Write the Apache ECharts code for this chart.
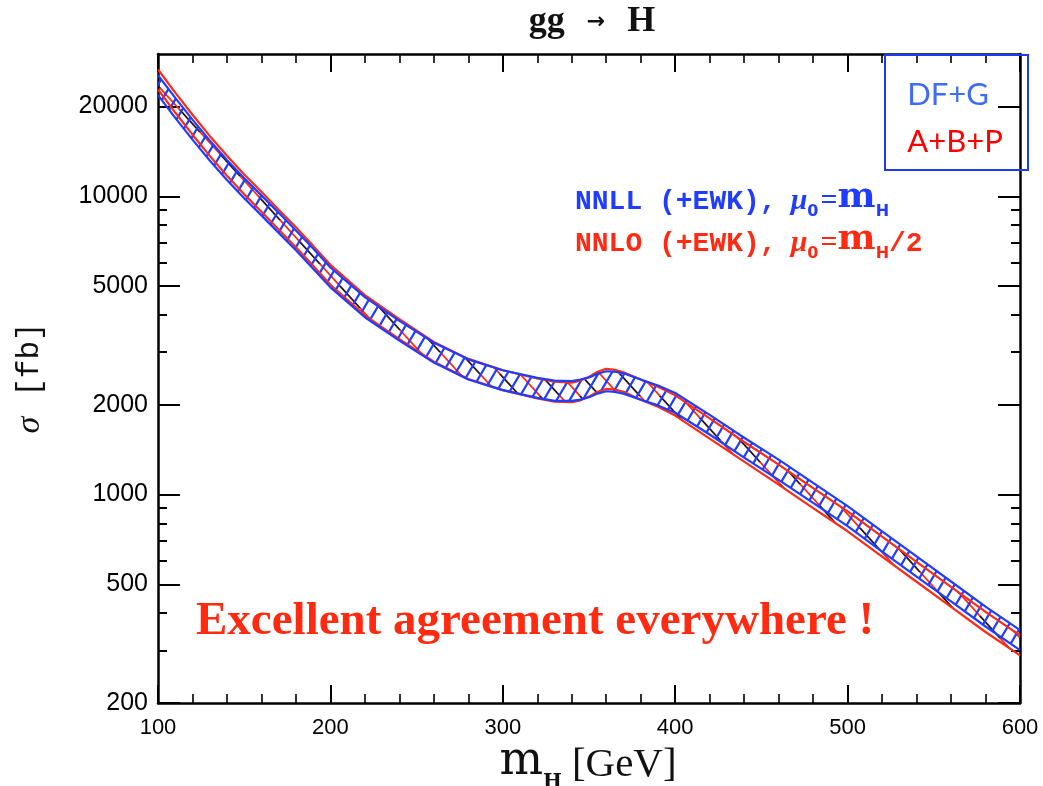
<!DOCTYPE html>
<html>
<head>
<meta charset="utf-8">
<script src="https://cdn.jsdelivr.net/npm/echarts@6/dist/echarts.min.js"></script>
<style>
  html, body { margin: 0; padding: 0; background: #ffffff; }
  #chart { width: 1043px; height: 786px; }
</style>
</head>
<body>
<div id="chart"></div>
<script>
// Higgs mass points (GeV)
const masses = [100,110,120,130,140,150,160,170,180,190,200,220,240,260,280,300,320,330,340,345,350,355,360,365,370,380,390,400,420,440,460,480,500,520,540,560,580,600];

// NNLL (+EWK), mu0 = mH : band edges in fb
const nnllUpper = [25460,21370,18070,15390,13230,11490,10070,8800,7680,6680,5770,4590,3820,3230,2840,2610,2460,2410,2400,2430,2470,2540,2590,2580,2550,2430,2320,2190,1850,1550,1310,1094,915,752,620,511,421,351];
const nnllLower = [21830,18320,15490,13190,11340,9850,8630,7540,6590,5720,4950,3930,3280,2770,2430,2240,2110,2060,2060,2080,2120,2180,2220,2210,2180,2080,1990,1880,1590,1330,1120,938,784,644,531,438,361,301];

// NNLO (+EWK), mu0 = mH/2 : band edges in fb
const nnloUpper = [26610,22270,18770,15940,13670,11840,10350,9020,7870,6820,5890,4660,3870,3250,2850,2610,2450,2390,2370,2410,2480,2580,2640,2620,2570,2430,2300,2150,1800,1500,1260,1051,878,722,595,490,404,337];
const nnloLower = [22810,19090,16090,13660,11720,10150,8870,7740,6750,5850,5050,3990,3320,2790,2440,2240,2100,2050,2040,2070,2130,2210,2260,2250,2210,2080,1970,1840,1540,1290,1080,901,753,619,510,420,346,289];

// axis ticks
const yLabelTicks = [200, 500, 1000, 2000, 5000, 10000, 20000];
const yMinorTicks = [300, 400, 600, 700, 800, 900, 3000, 4000, 6000, 7000, 8000, 9000];
const yRange = [200, 30000];
const xRange = [100, 600];
const xStep = 100;

const BLUE = '#1f3cff';
const RED = '#ff2a14';
const lg = Math.log10;

// diagonal hatch tile; dir '/' or '\\'
function hatch(w, h, n, dir, colors, lw) {
  const c = document.createElement('canvas');
  c.width = w * n; c.height = h;
  const g = c.getContext('2d');
  g.lineWidth = lw;
  g.lineCap = 'square';
  for (let k = -1; k <= n; k++) {
    g.strokeStyle = colors[((k % n) + n) % n % colors.length];
    g.beginPath();
    if (dir === '/') { g.moveTo(k * w, h); g.lineTo((k + 1) * w, 0); }
    else { g.moveTo(k * w, 0); g.lineTo((k + 1) * w, h); }
    g.stroke();
  }
  return c;
}

const blueHatch = hatch(13, 22, 2, '/', [BLUE, BLUE], 2.2);
const redHatch = hatch(20, 22, 2, '\\', [RED, '#2a1010'], 1.8);

// hatched band between two edges, placed through the cartesian scales
function band(lower, upper, pattern, z) {
  return {
    type: 'custom', coordinateSystem: 'cartesian2d', z: z, silent: true, clip: true,
    data: [[masses[0], lg(lower[0])]],
    renderItem: function (params, api) {
      const top = masses.map((m, i) => api.coord([m, lg(upper[i])]));
      const bot = masses.map((m, i) => api.coord([m, lg(lower[i])])).reverse();
      return {
        type: 'polygon',
        shape: { points: top.concat(bot) },
        style: { fill: { image: pattern, repeat: 'repeat' }, stroke: null }
      };
    }
  };
}

function edge(vals, color, z) {
  return {
    type: 'line', z: z, silent: true, symbol: 'none', smooth: false,
    data: masses.map((m, i) => [m, lg(vals[i])]),
    lineStyle: { color: color, width: 2.2 }
  };
}

function yAxisDef(pos, ticks, len, withLabels, withLine) {
  return {
    type: 'value', position: pos,
    min: lg(yRange[0]), max: lg(yRange[1]),
    axisLine: { show: withLine, lineStyle: { color: '#000', width: 2.5 } },
    axisTick: { show: true, inside: true, length: len, customValues: ticks.map(lg), lineStyle: { color: '#000', width: 2 } },
    axisLabel: withLabels ? {
      show: true, customValues: ticks.map(lg), margin: 10,
      formatter: v => String(Math.round(Math.pow(10, v))),
      color: '#000', fontSize: 25, fontFamily: '"Liberation Sans", Arial, sans-serif'
    } : { show: false },
    splitLine: { show: false }
  };
}

function xAxisDef(pos, withLabels) {
  return {
    type: 'value', position: pos,
    min: xRange[0], max: xRange[1], interval: xStep,
    axisLine: { show: true, lineStyle: { color: '#000', width: 2.5 } },
    axisTick: { show: true, inside: true, length: 18, lineStyle: { color: '#000', width: 2 } },
    minorTick: { show: true, splitNumber: 5, length: 9, lineStyle: { color: '#000', width: 1.6 } },
    axisLabel: withLabels ? {
      show: true, margin: 14, color: '#000', fontSize: 22,
      fontFamily: '"Liberation Sans", Arial, sans-serif'
    } : { show: false },
    splitLine: { show: false },
    minorSplitLine: { show: false }
  };
}

// rich styles for the in-plot key lines
function keyRich(color) {
  const base = { fill: color, verticalAlign: 'bottom', padding: [0, 0, 4, 0], fontWeight: 'bold' };
  return {
    a: Object.assign({}, base, { fontSize: 28, fontFamily: '"Liberation Mono", monospace' }),
    u: Object.assign({}, base, { fontSize: 30, fontStyle: 'italic', fontFamily: '"Liberation Serif", serif', padding: [0, 0, 4, 14] }),
    e: Object.assign({}, base, { fontSize: 30, fontFamily: '"Liberation Serif", serif', padding: [0, 0, 4, 2] }),
    m: Object.assign({}, base, { fontSize: 36, fontFamily: '"DejaVu Serif", serif' }),
    s: { fill: color, verticalAlign: 'bottom', fontWeight: 'bold', fontSize: 16, fontFamily: '"DejaVu Sans", sans-serif' }
  };
}

const chart = echarts.init(document.getElementById('chart'), null, { renderer: 'canvas' });

chart.setOption({
  animation: false,
  backgroundColor: '#ffffff',
  grid: { left: 158, right: 23, top: 54, bottom: 83, containLabel: false, outerBoundsMode: 'none' },
  xAxis: [xAxisDef('bottom', true), xAxisDef('top', false)],
  yAxis: [
    yAxisDef('left', yLabelTicks, 22, true, true),
    yAxisDef('left', yMinorTicks, 9, false, false),
    yAxisDef('right', yLabelTicks, 22, false, true),
    yAxisDef('right', yMinorTicks, 9, false, false)
  ],
  series: [
    band(nnloLower, nnloUpper, redHatch, 2),
    band(nnllLower, nnllUpper, blueHatch, 3),
    edge(nnloUpper, RED, 4),
    edge(nnloLower, RED, 4),
    edge(nnllUpper, BLUE, 5),
    edge(nnllLower, BLUE, 5)
  ],
  graphic: [
    // title
    {
      type: 'text', x: 592, y: 22, z: 10,
      style: {
        text: '{g|gg}{a|→}{g|H}', align: 'center', verticalAlign: 'middle',
        rich: {
          g: { fontSize: 36, fontWeight: 'bold', fontFamily: '"Liberation Serif", serif', fill: '#111' },
          a: { fontSize: 22, fontWeight: 'bold', fontFamily: '"DejaVu Sans", sans-serif', fill: '#111', padding: [0, 22, 0, 22] }
        }
      }
    },
    // x axis title
    {
      type: 'text', x: 588, y: 766, z: 10,
      style: {
        text: '{m|m}{s|H}{b|[GeV]}', align: 'center', verticalAlign: 'middle',
        rich: {
          m: { fontSize: 46, fontFamily: '"DejaVu Serif", serif', fill: '#111', verticalAlign: 'bottom', padding: [0, 0, 7, 0] },
          s: { fontSize: 20, fontWeight: 'bold', fontFamily: '"DejaVu Serif", serif', fill: '#111', verticalAlign: 'bottom' },
          b: { fontSize: 41, fontFamily: '"Liberation Serif", serif', fill: '#111', verticalAlign: 'bottom', padding: [0, 0, 7, 10] }
        }
      }
    },
    // y axis title
    {
      type: 'text', x: 30, y: 378, rotation: Math.PI / 2, z: 10,
      style: {
        text: '{s|σ}{b|[fb]}', align: 'center', verticalAlign: 'middle',
        rich: {
          s: { fontSize: 34, fontStyle: 'italic', fontFamily: '"Liberation Serif", serif', fill: '#111', padding: [0, 20, 0, 0] },
          b: { fontSize: 31, fontFamily: '"Liberation Mono", monospace', fill: '#111' }
        }
      }
    },
    // in-plot key
    {
      type: 'text', x: 575, y: 200, z: 10,
      style: { text: '{a|NNLL (+EWK),}{u|μ}{s|0}{e|=}{m|m}{s|H}', align: 'left', verticalAlign: 'middle', rich: keyRich(BLUE) }
    },
    {
      type: 'text', x: 575, y: 242, z: 10,
      style: { text: '{a|NNLO (+EWK),}{u|μ}{s|0}{e|=}{m|m}{s|H}{a|/2}', align: 'left', verticalAlign: 'middle', rich: keyRich(RED) }
    },
    // statement
    {
      type: 'text', x: 196, y: 622, z: 10,
      style: {
        text: 'Excellent agreement everywhere !', align: 'left', verticalAlign: 'middle',
        fontSize: 47, fontWeight: 'bold', fontFamily: '"Liberation Serif", serif', fill: '#ff2a10'
      }
    },
    // comparison key box
    {
      type: 'rect', z: 10,
      shape: { x: 885, y: 55, width: 143, height: 115 },
      style: { fill: 'none', stroke: '#1d3cf0', lineWidth: 2 }
    },
    {
      type: 'text', x: 948, y: 95, z: 11,
      style: { text: 'DF+G', align: 'center', verticalAlign: 'middle', fontSize: 31, fontFamily: 'Lato, "Open Sans", sans-serif', fill: '#3f6cf5' }
    },
    {
      type: 'text', x: 955, y: 142, z: 11,
      style: { text: 'A+B+P', align: 'center', verticalAlign: 'middle', fontSize: 31, fontFamily: 'Lato, "Open Sans", sans-serif', fill: '#ff0000' }
    }
  ]
});
</script>
</body>
</html>
